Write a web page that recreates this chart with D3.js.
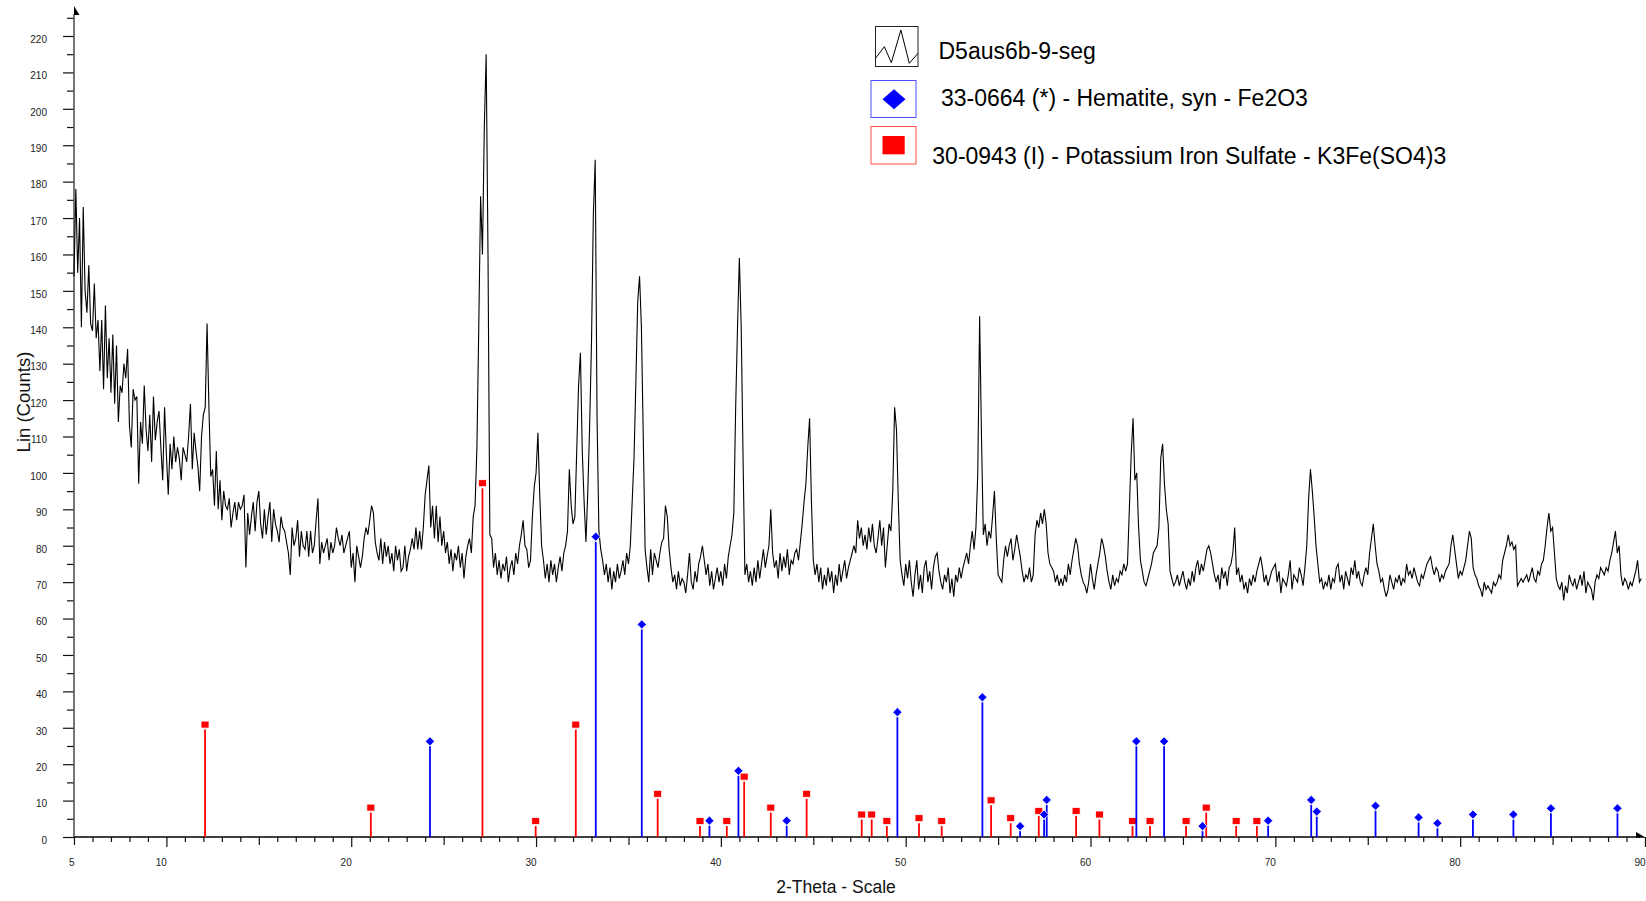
<!DOCTYPE html>
<html>
<head>
<meta charset="utf-8">
<script src="https://cdn.jsdelivr.net/npm/d3@7"></script>
<style>
  html, body { margin: 0; padding: 0; background: #fff; }
  svg { display: block; font-family: "Liberation Sans", Arial, Helvetica, sans-serif; }
</style>
</head>
<body>
<svg id="chart" width="1646" height="901"></svg>
<script>
// ---- Measured scan: D5aus6b-9-seg (2-theta from 5.0 deg in 0.1 deg steps) ----
const scanStart = 5.0;
const scanStep = 0.1;
const scanCounts = [
  154,178,155,170,140,173,150,144,157,141, // 5
  139,152,137,142,128,142,123,146,126,137, // 6
  122,138,119,135,114,124,122,130,126,134, // 7
  113,107,123,120,121,97,114,108,124,112,  // 8
  106,116,103,121,109,114,117,107,98,118,  // 9
  105,94,108,101,110,103,107,104,98,107,   // 10
  105,103,110,119,101,111,106,102,95,110,  // 11
  116,118,141,118,99,101,91,106,90,98,     // 12
  87,95,91,90,93,85,89,92,87,92,           // 13
  90,91,94,74,89,83,88,92,84,92,           // 14
  95,86,82,90,83,88,92,81,90,86,           // 15
  84,81,88,85,84,81,78,72,85,80,           // 16
  82,87,77,84,80,79,84,77,84,78,           // 17
  80,87,93,75,81,78,80,82,76,81,           // 18
  78,80,85,82,80,83,78,80,82,84,           // 19
  74,78,70,80,77,74,77,82,85,83,           // 20
  87,91,89,81,78,76,82,75,81,77,           // 21
  80,75,78,73,80,76,79,73,74,80,           // 22
  73,77,79,82,79,85,79,84,79,85,           // 23
  94,98,102,85,91,82,91,81,88,80,          // 24
  84,78,81,75,79,73,78,76,80,74,           // 25
  78,71,77,80,82,78,88,91,107,140,         // 26
  176,160,195,215,160,83,82,74,78,72,      // 27
  76,71,75,73,77,70,74,76,72,78,           // 28
  75,80,83,87,80,79,74,76,88,96,           // 29
  100,111,94,80,76,71,75,70,76,72,         // 30
  75,70,74,77,73,78,80,84,101,91,          // 31
  86,88,106,124,133,106,92,81,95,113,      // 32
  136,171,186,115,84,79,76,72,75,70,       // 33
  74,68,73,70,75,71,73,76,72,78,           // 34
  75,80,92,104,125,147,154,140,110,79,     // 35
  74,70,79,72,78,76,74,78,81,82,           // 36
  91,88,79,74,70,72,68,73,69,71,           // 37
  70,67,72,78,70,68,73,70,75,77,           // 38
  80,76,72,75,69,73,68,71,74,70,           // 39
  73,69,75,71,77,80,83,89,118,140,         // 40
  159,140,104,72,75,70,73,69,74,70,        // 41
  76,71,75,79,74,77,80,90,78,74,           // 42
  76,71,78,73,77,74,79,72,76,75,           // 43
  78,79,76,81,86,92,97,107,115,92,         // 44
  76,72,75,70,74,68,72,69,74,70,           // 45
  73,67,72,69,75,70,73,76,71,74,           // 46
  76,78,80,78,87,82,85,80,83,79,           // 47
  85,81,86,80,78,82,87,80,85,74,           // 48
  80,86,84,95,118,112,92,76,72,69,         // 49
  75,71,76,70,66,72,76,68,72,67,           // 50
  74,76,70,73,68,74,77,78,73,70,           // 51
  68,72,70,74,67,71,66,72,70,74,           // 52
  71,74,76,78,75,80,84,79,85,100,          // 53
  143,110,83,86,80,84,82,88,95,82,         // 54
  72,71,70,76,80,77,80,82,76,79,           // 55
  83,80,77,73,70,72,71,74,70,72,           // 56
  83,87,85,89,86,90,86,78,75,74,           // 57
  73,70,72,69,71,69,72,70,75,72,           // 58
  76,79,82,80,75,72,70,69,67,70,           // 59
  75,71,68,72,75,78,82,80,77,73,           // 60
  70,68,72,69,71,70,73,72,75,73,           // 61
  75,90,105,115,98,100,85,76,73,70,        // 62
  69,71,73,75,78,79,80,85,104,108,         // 63
  97,90,86,73,71,69,70,72,69,71,           // 64
  73,70,68,71,69,73,70,74,76,72,           // 65
  75,73,76,79,80,78,75,72,70,72,           // 66
  68,74,71,73,69,74,75,78,85,72,           // 67
  74,70,72,68,70,67,71,69,72,70,           // 68
  73,75,77,74,70,72,69,71,73,74,           // 69
  75,70,73,67,71,70,69,72,76,68,           // 70
  72,71,70,74,72,69,74,80,93,101,          // 71
  95,88,80,75,70,71,68,70,69,72,           // 72
  68,71,70,74,75,70,72,68,73,71,           // 73
  69,74,72,76,71,73,70,69,72,74,           // 74
  72,78,82,86,80,75,73,70,71,68,           // 75
  66,68,72,70,68,71,70,72,69,71,           // 76
  70,75,72,73,71,74,72,70,69,72,           // 77
  71,73,75,76,77,74,72,74,73,70,           // 78
  72,71,73,74,75,80,83,79,75,71,           // 79
  73,72,74,76,80,84,82,74,72,71,           // 80
  69,68,66,70,68,69,68,67,70,69,           // 81
  70,72,71,76,78,80,83,80,81,79,           // 82
  80,69,70,71,70,71,72,70,72,74,           // 83
  71,70,73,72,75,76,80,85,89,84,           // 84
  85,78,71,69,68,70,65,69,67,72,           // 85
  70,69,71,68,70,72,69,73,67,70,           // 86
  69,68,65,70,72,71,74,73,72,74,           // 87
  73,76,78,81,84,78,80,72,69,71,           // 88
  70,68,70,69,71,73,76,70,71               // 89
];

// ---- Reference pattern 33-0664: Hematite, syn - Fe2O3 ----
const hematiteAngles = [24.26, 33.23, 35.72, 39.38, 40.95, 43.56, 49.55, 54.15, 56.19, 57.49, 57.63, 62.48,
                        63.98, 66.06, 69.61, 71.94, 72.24, 75.42, 77.75, 78.77, 80.69, 82.88, 84.91, 88.51];
const hematiteHeights = [24.9, 81.1, 57.0, 3.1, 16.8, 3.1, 32.9, 37.0, 1.6, 4.8, 8.8, 24.9,
                         24.9, 1.6, 3.1, 8.8, 5.6, 7.2, 4.0, 2.4, 4.8, 4.8, 6.5, 6.5];

// ---- Reference pattern 30-0943: Potassium Iron Sulfate - K3Fe(SO4)3 ----
const sulfateAngles = [12.09, 21.06, 27.10, 29.98, 32.15, 36.58, 38.87, 40.32, 41.26, 42.70, 44.64, 47.62, 48.16,
                       48.98, 50.72, 51.95, 54.62, 55.68, 57.20, 59.22, 60.48, 62.27, 63.22, 65.17, 66.26, 67.88, 69.00];
const sulfateHeights = [29.5, 6.7, 95.8, 3.0, 29.5, 10.5, 3.0, 3.0, 15.2, 6.7, 10.5, 4.8, 4.8,
                        3.0, 3.8, 3.0, 8.7, 3.8, 5.8, 5.8, 4.8, 3.0, 3.0, 3.0, 6.7, 3.0, 3.0];

// ---- Axis ticks and labels ----
const xLabelTicks = [5, 10, 20, 30, 40, 50, 60, 70, 80, 90];
const yLabelTicks = d3.range(0, 221, 10);
const legendLabels = [
  "D5aus6b-9-seg",
  "33-0664 (*) - Hematite, syn - Fe2O3",
  "30-0943 (I) - Potassium Iron Sulfate - K3Fe(SO4)3"
];

const svg = d3.select("#chart");
const x = d3.scaleLinear().domain([5, 90]).range([74, 1645]);
const y = d3.scaleLinear().domain([0, 220]).range([837, 36]);

// ---- Y axis ----
const yMinor = d3.axisLeft(y).tickValues(d3.range(5, 226, 10)).tickSize(7).tickFormat("");
const yMajor = d3.axisLeft(y).tickValues(yLabelTicks).tickSize(11).tickPadding(16);
const gyMinor = svg.append("g").attr("transform", "translate(74,0)").call(yMinor);
const gyMajor = svg.append("g").attr("transform", "translate(74,0)").call(yMajor);
[gyMinor, gyMajor].forEach(g => {
  g.select(".domain").remove();
  g.selectAll("line").attr("stroke", "#111").attr("stroke-width", 1.2);
});
gyMajor.selectAll("text")
  .attr("dy", "0.63em")
  .attr("fill", "#222")
  .style("font-size", "10px")
  .style("font-family", "'Liberation Sans', Arial, sans-serif");

// ---- X axis ----
function xTickGroup(values, size) {
  const g = svg.append("g").attr("transform", "translate(0,837)")
    .call(d3.axisBottom(x).tickValues(values).tickSize(size).tickFormat(""));
  g.select(".domain").remove();
  g.selectAll("line").attr("stroke", "#111").attr("stroke-width", 1.2);
  return g;
}
xTickGroup(d3.range(5, 91, 1).filter(v => v % 5 !== 0), 5);
xTickGroup(d3.range(5, 91, 5).filter(v => v % 10 !== 0), 8);
xTickGroup(d3.range(10, 91, 10), 10);

const gxLabels = svg.append("g").attr("transform", "translate(0,837)")
  .call(d3.axisBottom(x).tickValues(xLabelTicks).tickSize(0).tickPadding(22));
gxLabels.select(".domain").remove();
gxLabels.selectAll("text")
  .attr("text-anchor", "end")
  .attr("fill", "#222")
  .style("font-size", "10px")
  .style("font-family", "'Liberation Sans', Arial, sans-serif");

// Axis lines with half-arrow heads
svg.append("line").attr("x1", 74).attr("x2", 74).attr("y1", y(0)).attr("y2", 14)
  .attr("stroke", "#555").attr("stroke-width", 1.6);
svg.append("polygon").attr("points", "74,6 79.5,15 74,15").attr("fill", "#000");
svg.append("line").attr("x1", 74).attr("x2", 1640).attr("y1", y(0)).attr("y2", y(0))
  .attr("stroke", "#000").attr("stroke-width", 1.4);
svg.append("polygon").attr("points", "1636,832 1646,837.7 1636,837.7").attr("fill", "#000");

// ---- Axis titles ----
svg.append("text")
  .attr("transform", "translate(30,402) rotate(-90)")
  .attr("text-anchor", "middle")
  .style("font-size", "18.5px")
  .attr("fill", "#111")
  .text("Lin (Counts)");
svg.append("text")
  .attr("x", 836).attr("y", 893)
  .attr("text-anchor", "middle")
  .style("font-size", "17.5px")
  .attr("fill", "#111")
  .text("2-Theta - Scale");

// ---- Measured trace ----
const scan = scanCounts.map((c, i) => [scanStart + i * scanStep, c]);
svg.append("path")
  .datum(scan)
  .attr("fill", "none")
  .attr("stroke", "#000")
  .attr("stroke-width", 1.1)
  .attr("stroke-linejoin", "miter")
  .attr("d", d3.line().x(d => x(d[0])).y(d => y(d[1])));

// ---- Reference stick patterns ----
function sticks(angles, heights, color, shape) {
  const data = angles.map((a, i) => ({ a, h: heights[i] }));
  const g = svg.append("g");
  g.selectAll("line").data(data).join("line")
    .attr("x1", d => x(d.a)).attr("x2", d => x(d.a))
    .attr("y1", y(0)).attr("y2", d => y(d.h))
    .attr("stroke", color).attr("stroke-width", 1.8);
  if (shape === "diamond") {
    g.selectAll("path").data(data).join("path")
      .attr("transform", d => `translate(${x(d.a)},${y(d.h) - 5})`)
      .attr("d", "M0,-4.6L4.6,0L0,4.6L-4.6,0Z")
      .attr("fill", color).attr("stroke", "#fff").attr("stroke-width", 0.8);
  } else {
    g.selectAll("rect").data(data).join("rect")
      .attr("x", d => x(d.a) - 4).attr("y", d => y(d.h) - 8.5)
      .attr("width", 8).attr("height", 7)
      .attr("fill", color).attr("stroke", "#fff").attr("stroke-width", 0.8);
  }
}
sticks(sulfateAngles, sulfateHeights, "#ff0000", "square");
sticks(hematiteAngles, hematiteHeights, "#0000ff", "diamond");

// ---- Legend ----
const legend = svg.append("g");
const legendFont = "23px";
// measured scan entry
legend.append("rect").attr("x", 875.5).attr("y", 26.5).attr("width", 42.5).attr("height", 40)
  .attr("fill", "#fff").attr("stroke", "#222").attr("stroke-width", 1);
legend.append("polyline")
  .attr("points", "875.5,58.3 884.4,46.7 891.3,62.7 900.9,30 909.3,63.3 918,53.3")
  .attr("fill", "none").attr("stroke", "#000").attr("stroke-width", 1);
legend.append("text").attr("x", 938.5).attr("y", 58.5).style("font-size", legendFont).attr("fill", "#000")
  .text(legendLabels[0]);
// hematite entry
legend.append("rect").attr("x", 871).attr("y", 80.5).attr("width", 45).attr("height", 37)
  .attr("fill", "#fff").attr("stroke", "#4d4dff").attr("stroke-width", 1);
legend.append("path").attr("transform", "translate(894,99.3)")
  .attr("d", "M0,-10L11.5,0L0,10L-11.5,0Z").attr("fill", "#0000ff");
legend.append("text").attr("x", 941).attr("y", 106).style("font-size", legendFont).attr("fill", "#000")
  .text(legendLabels[1]);
// sulfate entry
legend.append("rect").attr("x", 871).attr("y", 126.5).attr("width", 45).attr("height", 37.5)
  .attr("fill", "#fff").attr("stroke", "#ff4d4d").attr("stroke-width", 1);
legend.append("rect").attr("x", 882.5).attr("y", 136).attr("width", 22.2).attr("height", 18.3)
  .attr("fill", "#ff0000");
legend.append("text").attr("x", 932.3).attr("y", 163.5).style("font-size", legendFont).attr("fill", "#000")
  .text(legendLabels[2]);
</script>
</body>
</html>
